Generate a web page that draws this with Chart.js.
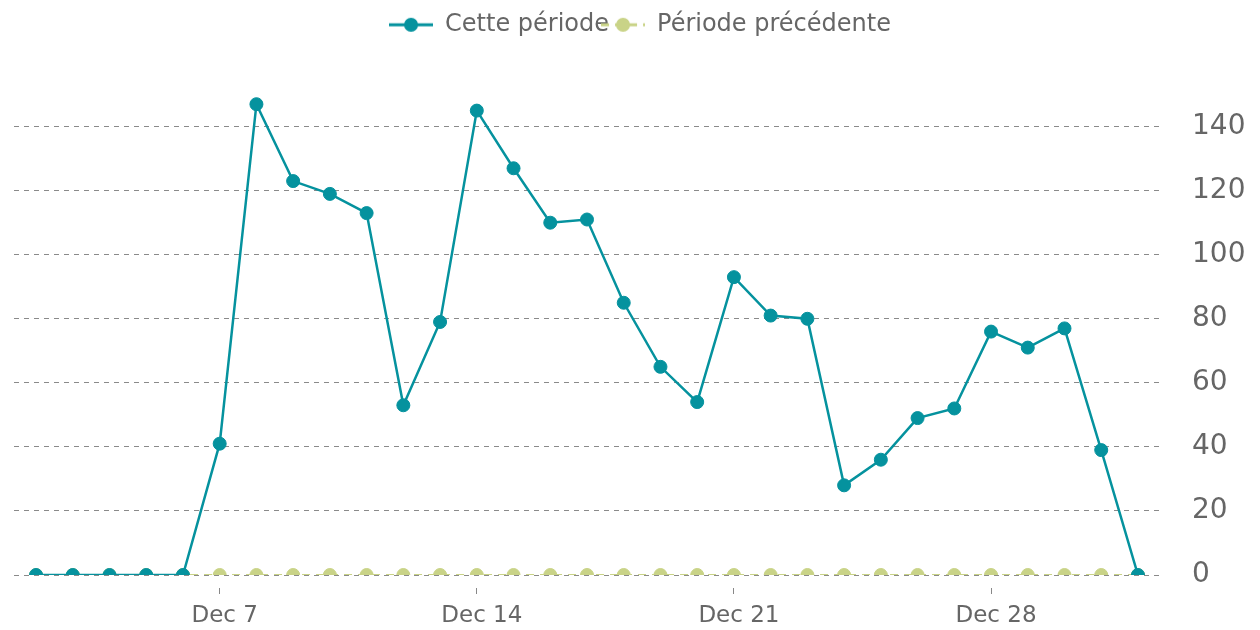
<!DOCTYPE html>
<html>
<head>
<meta charset="utf-8">
<script src="https://cdn.jsdelivr.net/npm/chart.js@4/dist/chart.umd.min.js"></script>
<style>
  html, body { margin: 0; padding: 0; background: #fff; }
  #wrap { width: 1260px; height: 630px; }
</style>
</head>
<body>
<div id="wrap"><canvas id="myChart" width="1260" height="630"></canvas></div>
<script>
// jours de la période (2 déc -> 1 jan)
var days = [
    "Dec 2", "Dec 3", "Dec 4", "Dec 5", "Dec 6", "Dec 7", "Dec 8", "Dec 9", "Dec 10", "Dec 11",
    "Dec 12", "Dec 13", "Dec 14", "Dec 15", "Dec 16", "Dec 17", "Dec 18", "Dec 19", "Dec 20", "Dec 21",
    "Dec 22", "Dec 23", "Dec 24", "Dec 25", "Dec 26", "Dec 27", "Dec 28", "Dec 29", "Dec 30", "Dec 31",
    "Jan 1"
];
// semaines affichées sur l'axe x
var weekTicks = ["Dec 7", "Dec 14", "Dec 21", "Dec 28"];
var yTicks = [0, 20, 40, 60, 80, 100, 120, 140];

var cettePeriode = [0, 0, 0, 0, 0, 41, 147, 123, 119, 113, 53, 79, 145, 127, 110, 111, 85, 65, 54, 93,
    81, 80, 28, 36, 49, 52, 76, 71, 77, 39, 0];
var periodePrecedente = [0, 0, 0, 0, 0, 0, 0, 0, 0, 0, 0, 0, 0, 0, 0, 0, 0, 0, 0, 0,
    0, 0, 0, 0, 0, 0, 0, 0, 0, 0, 0];

var TEAL = "#05929e";
var GREEN = "#c9d387";
var GREY = "#666666";

function toPoints(values) {
    return values.map(function (v, i) { return { x: i, y: v }; });
}

// petite image pour la légende : trait + rond
function legendIcon(color, dashed) {
    var c = document.createElement("canvas");
    c.width = 44; c.height = 20;
    var g = c.getContext("2d");
    g.strokeStyle = color;
    g.lineWidth = 3;
    if (dashed) g.setLineDash([8, 6]);
    g.beginPath();
    g.moveTo(0, 10); g.lineTo(44, 10);
    g.stroke();
    g.fillStyle = color;
    g.beginPath();
    g.arc(22, 10, 7, 0, Math.PI * 2);
    g.fill();
    return c;
}

var ctx = document.getElementById("myChart").getContext("2d");
var chart = new Chart(ctx, {
    type: "line",
    data: {
        datasets: [
            {
                label: "Cette période",
                data: toPoints(cettePeriode),
                borderColor: TEAL,
                backgroundColor: TEAL,
                borderWidth: 2.5,
                pointRadius: 6.5,
                pointBorderWidth: 1,
                pointStyle: "circle",
                tension: 0
            },
            {
                label: "Période précédente",
                data: toPoints(periodePrecedente),
                borderColor: GREEN,
                backgroundColor: GREEN,
                borderWidth: 2,
                borderDash: [8, 6],
                pointRadius: 6.5,
                pointBorderWidth: 1,
                tension: 0
            }
        ]
    },
    options: {
        responsive: false,
        animation: false,
        layout: { padding: { left: 14, right: 14, top: 17, bottom: 0 } },
        plugins: {
            tooltip: { enabled: false },
            legend: {
                position: "top",
                labels: {
                    usePointStyle: true,
                    pointStyleWidth: 44,
                    padding: -8,
                    color: GREY,
                    font: { family: "DejaVu Sans", size: 24 },
                    generateLabels: function (chart) {
                        return chart.data.datasets.map(function (ds, i) {
                            return {
                                text: ds.label,
                                fontColor: GREY,
                                pointStyle: legendIcon(ds.borderColor, i === 1),
                                hidden: false,
                                datasetIndex: i,
                                lineWidth: 0
                            };
                        });
                    }
                }
            }
        },
        scales: {
            x: {
                type: "linear",
                min: -0.6,
                max: 30.6,
                border: { display: false },
                grid: {
                    drawOnChartArea: false,
                    drawTicks: true,
                    tickLength: 20,
                    tickColor: "#888888",
                    tickWidth: 1,
                    tickBorderDash: [0, 13, 6, 100]
                },
                afterBuildTicks: function (scale) {
                    scale.ticks = weekTicks.map(function (d) { return { value: days.indexOf(d) }; });
                },
                afterFit: function (scale) {
                    scale.height = 55;
                },
                ticks: {
                    color: GREY,
                    font: { family: "DejaVu Sans", size: 23 },
                    maxRotation: 0,
                    labelOffset: 5,
                    padding: 7,
                    callback: function (value) { return days[value]; }
                }
            },
            y: {
                position: "right",
                min: 0,
                max: 164.3,
                border: { display: false, dash: [5, 5] },
                grid: {
                    color: "#8a8a8a",
                    lineWidth: 1,
                    drawTicks: false
                },
                afterBuildTicks: function (scale) {
                    scale.ticks = yTicks.map(function (v) { return { value: v }; });
                },
                afterFit: function (scale) {
                    scale.width = 86;
                },
                ticks: {
                    color: GREY,
                    padding: 32,
                    font: { family: "DejaVu Sans", size: 28 }
                }
            }
        }
    }
});
// la légende se chevauche un peu dans l'original : on la dessine sans découpe,
// légèrement décalée vers la droite comme sur l'image
chart.legend.draw = function () {
    if (!this.options.display) return;
    this.ctx.save();
    this.ctx.translate(10, -2);
    this._draw();
    this.ctx.restore();
};
chart.draw();
</script>
</body>
</html>
